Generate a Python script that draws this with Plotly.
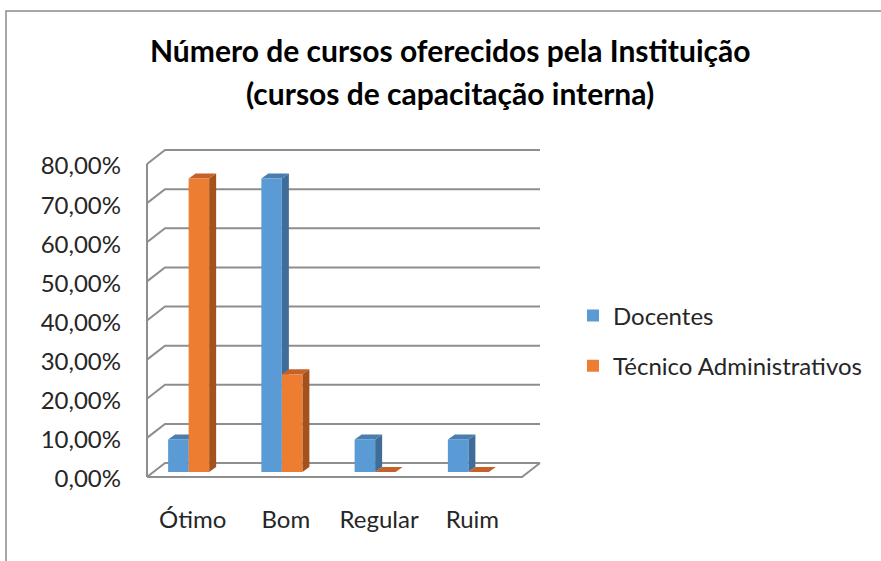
import plotly.graph_objects as go

# ---------------- data ----------------
categories = ["Ótimo", "Bom", "Regular", "Ruim"]
docentes = [0.0833, 0.75, 0.0833, 0.0833]
tecnicos = [0.75, 0.25, 0.0, 0.0]
series_names = ["Docentes", "Técnico Administrativos"]
y_ticks = [0.0, 0.1, 0.2, 0.3, 0.4, 0.5, 0.6, 0.7, 0.8]
y_tick_labels = ["0,00%", "10,00%", "20,00%", "30,00%", "40,00%",
                 "50,00%", "60,00%", "70,00%", "80,00%"]
title_lines = ["Número de cursos oferecidos pela Instituição",
               "(cursos de capacitação interna)"]

# ---------------- styling / layout ----------------
W, H = 881, 561
ML, MR, MT, MB = 142, 366, 159, 89
PW = W - ML - MR
PH = H - MT - MB
YMAX = 0.8
PXU = PH / YMAX                     # pixels per data unit (y)
CATW = PW / len(categories)         # pixels per category
BARGAP = 0.56
BW = (1 - BARGAP) / 2               # bar width in category units
BWPX = BW * CATW
DX, DY = 7, 5                       # bar depth offset (px)

FONT = "Lato, Carlito, Calibri, sans-serif"
BLUE, BLUE_SIDE, BLUE_TOP = "#5B9BD5", "#3F6D99", "#4A7DB0"
ORANGE, ORANGE_SIDE, ORANGE_TOP = "#ED7D31", "#A3511D", "#C4622A"
GRID = "#8E8E8E"
TXT = "#262626"

fig = go.Figure()
fig.add_trace(go.Bar(x=list(range(len(categories))), y=docentes, name=series_names[0],
                     marker=dict(color=BLUE, line=dict(width=0)), legendgroup="a"))
fig.add_trace(go.Bar(x=list(range(len(categories))), y=tecnicos, name=series_names[1],
                     marker=dict(color=ORANGE, line=dict(width=0)), legendgroup="b"))

shapes = []
# back wall gridlines with the diagonal stub toward the front axis
for v in y_ticks:
    shapes.append(dict(type="path", xref="paper", yref="paper",
                       xsizemode="pixel", ysizemode="pixel",
                       xanchor=0, yanchor=v / YMAX,
                       path="M5,-5 L23,9 L398,9",
                       line=dict(color=GRID, width=2), layer="below"))
# floor outline
shapes.append(dict(type="path", xref="paper", yref="paper",
                   xsizemode="pixel", ysizemode="pixel", xanchor=0, yanchor=0,
                   path="M5,-5 L380,-5 L398,9",
                   line=dict(color=GRID, width=2), layer="below"))
# front vertical axis edge
shapes.append(dict(type="path", xref="paper", yref="paper",
                   xsizemode="pixel", ysizemode="pixel", xanchor=0, yanchor=0,
                   path=f"M5,-5 L5,{PH - 5}",
                   line=dict(color=GRID, width=2), layer="below"))

# 3D faces of the bars
for i in range(len(categories)):
    for vals, k, side_c, top_c in ((docentes, 0, BLUE_SIDE, BLUE_TOP),
                                   (tecnicos, 1, ORANGE_SIDE, ORANGE_TOP)):
        v = vals[i]
        left = i - BW + k * BW
        right = left + BW
        h = v * PXU
        if h > 0:
            shapes.append(dict(type="path", xref="x", yref="y",
                               xsizemode="pixel", ysizemode="pixel",
                               xanchor=right, yanchor=v,
                               path=f"M0,0 L{DX},{DY} L{DX},{DY - h} L0,{-h} Z",
                               fillcolor=side_c, line=dict(width=0), layer="below"))
        shapes.append(dict(type="path", xref="x", yref="y",
                           xsizemode="pixel", ysizemode="pixel",
                           xanchor=left, yanchor=v,
                           path=f"M0,0 L{BWPX},0 L{BWPX + DX},{DY} L{DX},{DY} Z",
                           fillcolor=top_c, line=dict(width=0), layer="below"))

# outer chart frame (left and top edges)
shapes.append(dict(type="path", xref="paper", yref="paper",
                   xsizemode="pixel", ysizemode="pixel", xanchor=0, yanchor=0,
                   path=f"M{6 - ML},{-MB - 2} L{6 - ML},{(H - MB) - 11} L{W - ML},{(H - MB) - 11}",
                   line=dict(color="#8A8A8A", width=1.5), layer="above"))

annotations = [
    dict(text=f"<b>{title_lines[0]}</b>", xref="paper", yref="paper",
         x=(450 - ML) / PW, y=((H - MB) - 50) / PH, showarrow=False,
         xanchor="center", yanchor="middle",
         font=dict(family=FONT, size=30, color="#000000")),
    dict(text=f"<b>{title_lines[1]}</b>", xref="paper", yref="paper",
         x=(450 - ML) / PW, y=((H - MB) - 93) / PH, showarrow=False,
         xanchor="center", yanchor="middle",
         font=dict(family=FONT, size=30, color="#000000")),
]

fig.update_layout(
    width=W, height=H,
    margin=dict(l=ML, r=MR, t=MT, b=MB, pad=0),
    paper_bgcolor="white", plot_bgcolor="rgba(0,0,0,0)",
    barmode="group", bargap=BARGAP, bargroupgap=0,
    shapes=shapes, annotations=annotations,
    showlegend=True,
    legend=dict(x=(573 - ML) / PW, y=((H - MB) - 341) / PH,
                xanchor="left", yanchor="middle",
                font=dict(family=FONT, size=24, color=TXT),
                tracegroupgap=16, bgcolor="rgba(0,0,0,0)"),
    xaxis=dict(range=[-0.5, len(categories) - 0.5], tickmode="array",
               tickvals=list(range(len(categories))), ticktext=categories,
               showgrid=False, zeroline=False, showline=False, ticks="",
               ticklabelstandoff=31, ticklabelshift=4,
               tickfont=dict(family=FONT, size=24, color=TXT),
               fixedrange=True),
    yaxis=dict(range=[0, YMAX], tickmode="array", tickvals=y_ticks,
               ticktext=y_tick_labels, showgrid=False, zeroline=False,
               showline=False, ticks="", ticklabelstandoff=20, ticklabelshift=7,
               tickfont=dict(family=FONT, size=24, color=TXT),
               fixedrange=True),
)

fig.write_html("out.html", config={"displayModeBar": False},
               post_script="document.body.style.margin='0px';")
